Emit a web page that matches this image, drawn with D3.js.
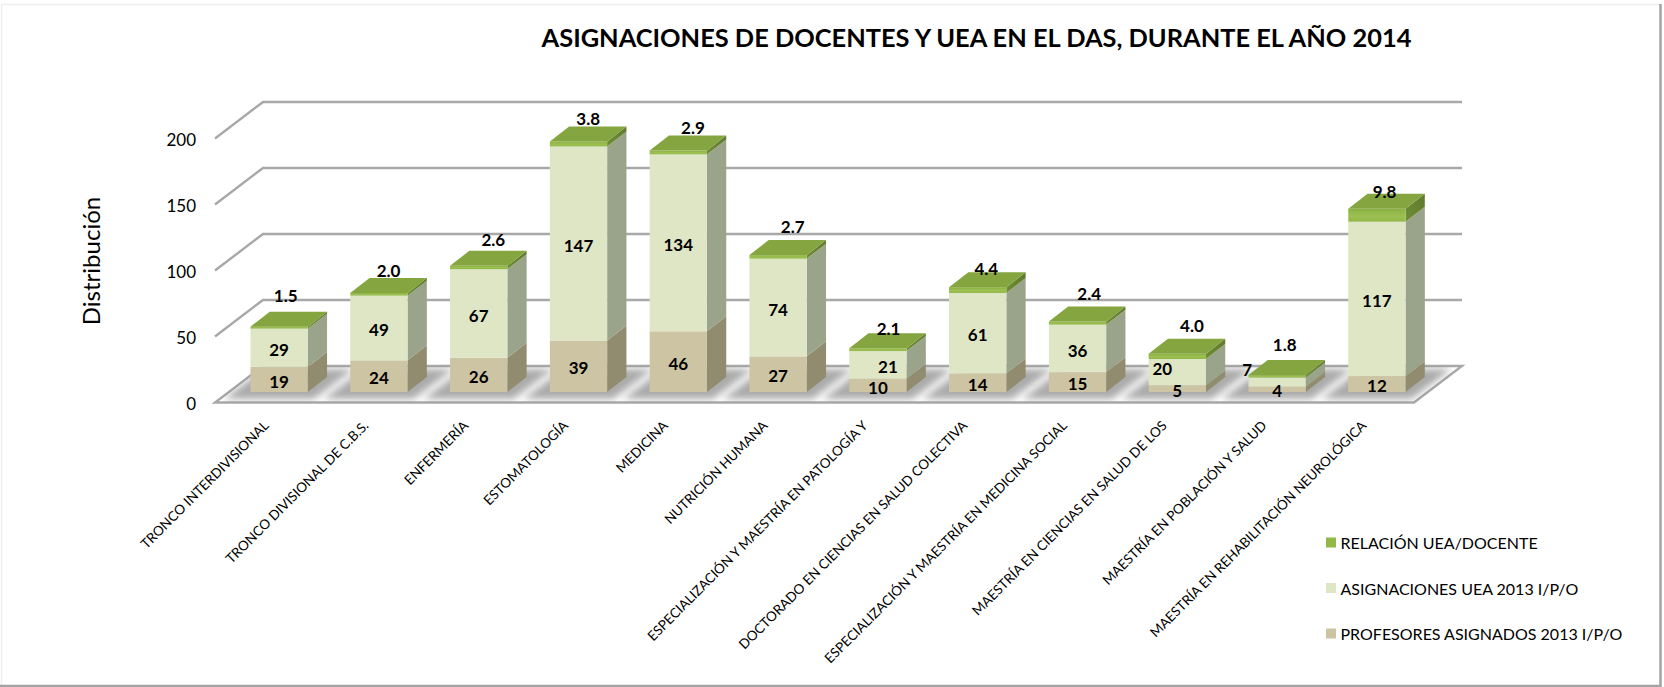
<!DOCTYPE html>
<html>
<head>
<meta charset="utf-8">
<script src="https://cdn.jsdelivr.net/npm/d3@7"></script>
<style>
  body { margin: 0; background: #fff; overflow: hidden; }
  text { font-family: Lato, "Open Sans", sans-serif; fill: #000; }
</style>
</head>
<body>
<div id="container"></div>
<script>
/* DATA */
const categories = [
  "TRONCO INTERDIVISIONAL", "TRONCO DIVISIONAL DE C.B.S.", "ENFERMERÍA", "ESTOMATOLOGÍA",
  "MEDICINA", "NUTRICIÓN HUMANA", "ESPECIALIZACIÓN Y MAESTRÍA EN PATOLOGÍA Y",
  "DOCTORADO EN CIENCIAS EN SALUD COLECTIVA", "ESPECIALIZACIÓN Y MAESTRÍA EN MEDICINA SOCIAL",
  "MAESTRÍA EN CIENCIAS EN SALUD DE LOS", "MAESTRÍA EN POBLACIÓN Y SALUD",
  "MAESTRÍA EN REHABILITACIÓN NEUROLÓGICA"
]
const profesores = [19, 24, 26, 39, 46, 27, 10, 14, 15, 5, 4, 12]
const asignaciones = [29, 49, 67, 147, 134, 74, 21, 61, 36, 20, 7, 117]
const relacion = [1.5, 2.0, 2.6, 3.8, 2.9, 2.7, 2.1, 4.4, 2.4, 4.0, 1.8, 9.8]
const yTicks = [0, 50, 100, 150, 200]
const legendLabels = ["RELACIÓN UEA/DOCENTE", "ASIGNACIONES UEA 2013 I/P/O", "PROFESORES ASIGNADOS 2013 I/P/O"]

/* CONSTANTS AND GLOBALS */
const width = 1664, height = 687
const floor = { front: 402.5, back: 366, left: 215, right: 1414, depthX: 48 }
const barDepth = { x: 19.3, y: 15 }
const barBase = 392
const unit = 1.32 // px per value

// the original labels are hand placed, so a few sit off centre
const relNudge = [[-3, -16], [0, -7], [5, -11], [0, -8], [5, -8], [5, -13], [1, -4], [-1, -3], [2, -13], [5, -13], [-2, -15], [-2, -2]]
const midNudge = { 6: [10, 0], 9: [-15, -5], 10: [-30, -14] }

const faces = {
  prof: { front: "#cdc4a3", side: "#918b6f" },
  uea: { front: "#dee6c5", side: "#9aa48b" },
  rel: { front: "url(#relFront)", side: "url(#relSide)", top: "#84a53f" }
}
const legendColors = ["#93b84a", "#dee6c5", "#cdc4a3"]

const table = categories.map((c, i) => ({ cat: c, prof: profesores[i], uea: asignaciones[i], rel: relacion[i] }))
const stacked = d3.stack().keys(["prof", "uea", "rel"])(table)

/* SCALES */
const xScale = d3.scaleBand()
  .domain(categories)
  .range([229.2, 229.2 + 12 * 99.8])
  .paddingInner(0.426)
  .paddingOuter(0.213)

const yFront = d3.scaleLinear().domain([0, 200]).range([floor.front, floor.front - 200 * unit])
const yBack = d3.scaleLinear().domain([0, 200]).range([floor.back, floor.back - 200 * unit])
const yBar = d3.scaleLinear().domain([0, 200]).range([barBase, barBase - 200 * unit])

/* CREATE SVG ELEMENT */
const svg = d3.select("#container").append("svg")
  .attr("width", width)
  .attr("height", height)
  .style("display", "block")

const defs = svg.append("defs")
defs.append("filter").attr("id", "blur").attr("x", "-30%").attr("y", "-50%").attr("width", "160%").attr("height", "200%")
  .append("feGaussianBlur").attr("stdDeviation", 3.5)

const relFront = defs.append("linearGradient").attr("id", "relFront").attr("x1", 0).attr("y1", 0).attr("x2", 0).attr("y2", 1)
relFront.append("stop").attr("offset", "0%").attr("stop-color", "#8bb043")
relFront.append("stop").attr("offset", "55%").attr("stop-color", "#9cc152")
relFront.append("stop").attr("offset", "100%").attr("stop-color", "#93b84a")
const relSide = defs.append("linearGradient").attr("id", "relSide").attr("x1", 0).attr("y1", 1).attr("x2", 1).attr("y2", 0)
relSide.append("stop").attr("offset", "0%").attr("stop-color", "#6f8d36")
relSide.append("stop").attr("offset", "100%").attr("stop-color", "#5f7a2c")

const floorPts = [
  [floor.left, floor.front], [floor.right, floor.front],
  [floor.right + floor.depthX, floor.back], [floor.left + floor.depthX, floor.back]
]
defs.append("clipPath").attr("id", "floorClip")
  .append("polygon").attr("points", floorPts.join(" "))

// page frame
svg.append("path").attr("d", "M1.5,687V4.5H1660").attr("fill", "none").attr("stroke", "#eeeeee").attr("stroke-width", 1.5)
svg.append("path").attr("d", "M1660.5,4V686H0").attr("fill", "none").attr("stroke", "#a3a3a3").attr("stroke-width", 2.5)

/* TITLE */
svg.append("text")
  .attr("x", 976.5).attr("y", 47)
  .attr("text-anchor", "middle")
  .attr("font-size", 25.4).attr("font-weight", 700)
  .text("ASIGNACIONES DE DOCENTES Y UEA EN EL DAS, DURANTE EL AÑO 2014")

/* WALLS AND FLOOR */
const grid = svg.append("g").attr("fill", "none").attr("stroke", "#a8a8a8").attr("stroke-width", 2.4)
grid.selectAll(".gridline")
  .data(yTicks.slice(1))
  .join("path")
  .attr("class", "gridline")
  .attr("d", d => `M${floor.left},${yFront(d)}L${floor.left + floor.depthX},${yBack(d)}H${floor.right + floor.depthX}`)

svg.append("polygon")
  .attr("points", floorPts.join(" "))
  .attr("fill", "#fff")
  .attr("stroke", "#a8a8a8")
  .attr("stroke-width", 2.4)

// shadows on the floor
svg.append("g").attr("clip-path", "url(#floorClip)")
  .selectAll("path")
  .data(categories)
  .join("path")
  .attr("d", d => {
    const cx = xScale(d) + xScale.bandwidth() / 2 + barDepth.x / 2
    const hw = 45, hs = 20
    return `M${cx - hw - hs},399L${cx + hw - hs},399L${cx + hw + hs},369L${cx - hw + hs},369Z`
  })
  .attr("fill", "#8f8f8f")
  .attr("opacity", 0.75)
  .attr("filter", "url(#blur)")

/* BARS */
const barW = xScale.bandwidth()
const layers = svg.selectAll(".layer")
  .data(stacked)
  .join("g")
  .attr("class", "layer")

layers.each(function (s) {
  const g = d3.select(this)
  const c = faces[s.key]
  g.selectAll(".side")
    .data(s)
    .join("path")
    .attr("class", "side")
    .attr("fill", c.side)
    .attr("d", d => {
      const x = xScale(d.data.cat) + barW
      return `M${x},${yBar(d[0])}L${x + barDepth.x},${yBar(d[0]) - barDepth.y}V${yBar(d[1]) - barDepth.y}L${x},${yBar(d[1])}Z`
    })
  g.selectAll(".front")
    .data(s)
    .join("rect")
    .attr("class", "front")
    .attr("x", d => xScale(d.data.cat))
    .attr("y", d => yBar(d[1]))
    .attr("width", barW)
    .attr("height", d => yBar(d[0]) - yBar(d[1]))
    .attr("fill", c.front)
  if (c.top) {
    g.selectAll(".top")
      .data(s)
      .join("path")
      .attr("class", "top")
      .attr("fill", c.top)
      .attr("d", d => {
        const x = xScale(d.data.cat), y = yBar(d[1])
        return `M${x},${y}L${x + barDepth.x},${y - barDepth.y}H${x + barW + barDepth.x}L${x + barW},${y}Z`
      })
  }
})

/* VALUE LABELS */
const labels = svg.append("g").attr("font-size", 17).attr("font-weight", 700).attr("text-anchor", "middle")

function midLabels(series, nudges) {
  labels.append("g").selectAll("text")
    .data(series)
    .join("text")
    .attr("x", (d, i) => xScale(d.data.cat) + barW / 2 + (nudges[i] ? nudges[i][0] : 0))
    .attr("y", (d, i) => (yBar(d[0]) + yBar(d[1])) / 2 + 2 + (nudges[i] ? nudges[i][1] : 0))
    .attr("dy", "0.36em")
    .text(d => d[1] - d[0])
}
midLabels(stacked[0], {})
midLabels(stacked[1], midNudge)

labels.append("g").selectAll("text")
  .data(stacked[2])
  .join("text")
  .attr("x", (d, i) => xScale(d.data.cat) + (barW + barDepth.x) / 2 + relNudge[i][0])
  .attr("y", (d, i) => yBar(d[1]) - barDepth.y + relNudge[i][1])
  .attr("dy", "0.36em")
  .text(d => d3.format(".1f")(d.data.rel))

/* AXES */
const yAxisGroup = svg.append("g")
  .attr("transform", `translate(${floor.left},2)`)
  .call(d3.axisLeft(yFront).tickValues(yTicks).tickSize(0).tickPadding(19))
yAxisGroup.select(".domain").remove()
yAxisGroup.selectAll("text").attr("font-size", 17).style("font-family", "Lato")

const xAxisGroup = svg.append("g")
  .attr("transform", "translate(0,423)")
  .call(d3.axisBottom(xScale).tickSize(0))
xAxisGroup.select(".domain").remove()
xAxisGroup.selectAll("text")
  .attr("font-size", 13.5)
  .style("font-family", "Lato")
  .attr("x", 0).attr("y", 0).attr("dy", "0.36em")
  .attr("text-anchor", "end")
  .attr("transform", "translate(-13,0) rotate(-45)")

svg.append("text")
  .attr("transform", "translate(91,261) rotate(-90)")
  .attr("text-anchor", "middle")
  .attr("dy", "0.36em")
  .attr("font-size", 24)
  .text("Distribución")

/* LEGEND */
const legend = svg.append("g").selectAll("g")
  .data(legendLabels)
  .join("g")
  .attr("transform", (d, i) => `translate(1326,${543.5 + i * 45.5})`)
legend.append("rect")
  .attr("x", 0).attr("y", -6)
  .attr("width", 10).attr("height", 10)
  .attr("fill", (d, i) => legendColors[i])
legend.append("text")
  .attr("x", 14.5)
  .attr("dy", "0.36em")
  .attr("font-size", 16)
  .text(d => d)
</script>
</body>
</html>
